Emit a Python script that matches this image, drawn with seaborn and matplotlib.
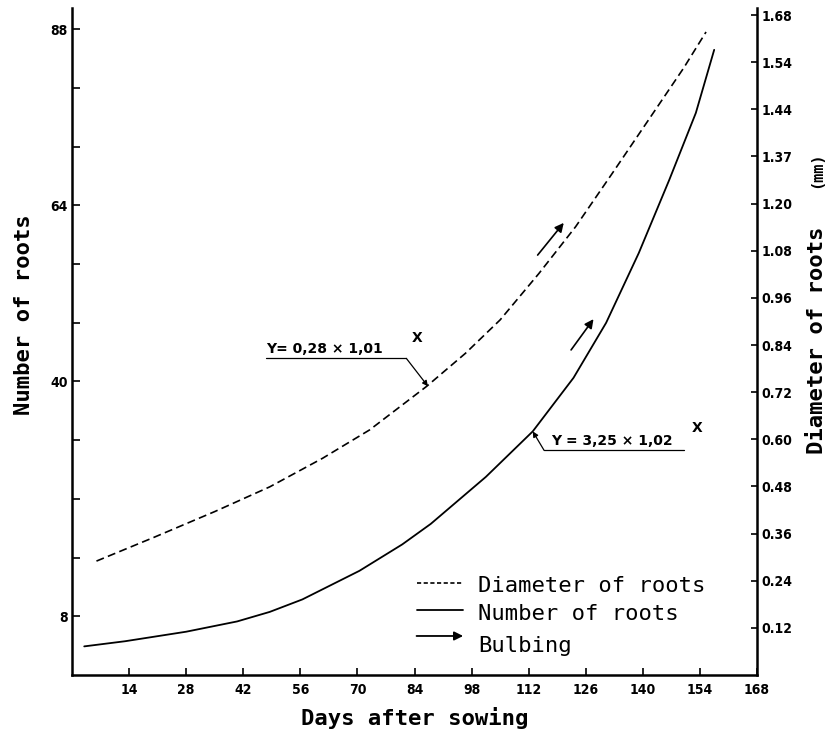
"""Number and diameter of roots vs. days after sowing (two y-axes)"""

import matplotlib
matplotlib.use("Agg")
import matplotlib.pyplot as plt
import seaborn as sns

# diameter of roots (right axis, mm)
diam_days = [6, 20, 35, 48.5, 61.5, 73, 87, 96.5, 105, 114.5, 123.5, 132.5, 142.5, 150, 155.5]
diam_mm = [0.29, 0.350, 0.416, 0.479, 0.552, 0.624, 0.735, 0.819, 0.904, 1.022, 1.141, 1.277,
           1.43, 1.545, 1.637]

# number of roots (left axis)
num_days = [3, 13, 28, 40.5, 48.5, 56.5, 70.5, 81, 88, 101.5, 113, 123, 131, 139, 146.5, 153, 157.5]
num_roots = [3.9, 4.6, 5.9, 7.3, 8.6, 10.3, 14.2, 17.8, 20.6, 27.0, 33.2, 40.5, 48.0, 57.5, 67.5,
             76.6, 85.2]

# axis ticks / labels as printed
x_ticks = [14, 28, 42, 56, 70, 84, 98, 112, 126, 140, 154, 168]
left_ticks = [8, 16, 24, 32, 40, 48, 56, 64, 72, 80, 88]
left_labels = ["8", "", "", "", "40", "", "", "64", "", "", "88"]
right_ticks = [0.12, 0.24, 0.36, 0.48, 0.60, 0.72, 0.84, 0.96, 1.08, 1.20, 1.32, 1.44, 1.56, 1.68]
right_labels = ["0.12", "0.24", "0.36", "0.48", "0.60", "0.72", "0.84", "0.96", "1.08", "1.20",
                "1.37", "1.44", "1.54", "1.68"]

sns.set_theme(style="ticks", rc={"text.color": "black", "axes.labelcolor": "black",
                                 "xtick.color": "black", "ytick.color": "black"})
plt.rcParams["font.family"] = ["DejaVu Sans Mono", "DejaVu Sans"]

fig = plt.figure(figsize=(8.3, 7.34), dpi=100)
ax = fig.add_axes([72 / 830, 1 - 675 / 734, 685 / 830, 667 / 734])
ax2 = ax.twinx()

sns.lineplot(x=num_days, y=num_roots, ax=ax, color="black", linewidth=1.3, sort=False)
sns.lineplot(x=diam_days, y=diam_mm, ax=ax2, color="black", linewidth=1.2, sort=False,
             linestyle=(0, (4.8, 2.6)))

ax.set_xlim(0, 168)
ax.set_ylim(0, 90.9)
ax2.set_ylim(0, 1.698)

tick_font = dict(family="DejaVu Sans", weight="bold", size=10, stretch="condensed")
ax.set_xticks(x_ticks)
ax.set_xticklabels([str(t) for t in x_ticks], fontdict=tick_font)
ax.set_yticks(left_ticks)
ax.set_yticklabels(left_labels, fontdict=tick_font)
ax2.set_yticks(right_ticks)
ax2.set_yticklabels(right_labels, fontdict=tick_font)

ax.tick_params(axis="x", direction="in", length=5, width=1.2, pad=6, colors="black")
ax.tick_params(axis="y", direction="in", length=6, width=1.2, pad=3, colors="black")
ax2.tick_params(axis="y", direction="in", length=4, width=1.2, pad=3, colors="black")

for a in (ax, ax2):
    a.spines["top"].set_visible(False)
    for s in a.spines.values():
        s.set_linewidth(1.8)
        s.set_color("black")
ax.spines["right"].set_visible(False)
ax2.spines["left"].set_visible(False)
ax2.spines["bottom"].set_visible(False)

# axis titles
ax.set_xlabel("Days after sowing", fontsize=16, fontweight="bold")
ax.xaxis.set_label_coords(0.5, -0.048)
ax.set_ylabel("Number of roots", fontsize=16, fontweight="bold")
ax.yaxis.set_label_coords(-0.056, 0.54)
ax2.set_ylabel("")
fig.text(817 / 830, 1 - 340 / 734, "Diameter of roots", rotation=90, fontsize=16,
         fontweight="bold", ha="center", va="center")
fig.text(817 / 830, 1 - 170 / 734, "(mm)", rotation=90, fontsize=11,
         fontweight="bold", ha="center", va="center")

# regression equations
eq_font = dict(family="DejaVu Sans", weight="bold", size=10)
ax2.text(47.6, 0.83, "Y= 0,28 \u00d7 1,01", ha="left", va="center", fontdict=eq_font)
ax2.text(83.2, 0.858, "X", ha="left", va="center", fontdict=eq_font)
ax2.plot([47.6, 82.0], [0.806, 0.806], color="black", lw=0.9)
ax2.annotate("", xy=(87.3, 0.735), xytext=(82.0, 0.806),
             arrowprops=dict(arrowstyle="-|>", color="black", lw=0.9, shrinkA=0, shrinkB=0,
                             mutation_scale=8))

ax.text(117.6, 31.9, "Y = 3,25 \u00d7 1,02", ha="left", va="center", fontdict=eq_font)
ax.text(152.1, 33.6, "X", ha="left", va="center", fontdict=eq_font)
ax.plot([115.8, 150.1], [30.6, 30.6], color="black", lw=0.9)
ax.annotate("", xy=(113.0, 33.2), xytext=(115.8, 30.6),
            arrowprops=dict(arrowstyle="-|>", color="black", lw=0.9, shrinkA=0, shrinkB=0,
                            mutation_scale=8))

# bulbing arrows
bulb = dict(arrowstyle="-|>", color="black", lw=1.2, shrinkA=0, shrinkB=0, mutation_scale=13)
ax2.annotate("", xy=(120.6, 1.151), xytext=(114.2, 1.069), arrowprops=bulb)
ax.annotate("", xy=(127.9, 48.5), xytext=(122.4, 44.3), arrowprops=bulb)

# hand-made key
tr = ax.transAxes
ax.plot([0.503, 0.571], [0.1375, 0.1375], transform=tr, color="black", lw=1.2,
        linestyle=(0, (2.5, 1.5)))
ax.plot([0.503, 0.571], [0.0975, 0.0975], transform=tr, color="black", lw=1.3)
ax.annotate("", xy=(0.571, 0.0585), xytext=(0.503, 0.0585), xycoords=tr, textcoords=tr,
            arrowprops=dict(arrowstyle="-|>", color="black", lw=1.3, shrinkA=0, shrinkB=0,
                            mutation_scale=13))
key_font = dict(size=16)
ax.text(0.593, 0.133, "Diameter of roots", transform=tr, va="center", fontdict=key_font)
ax.text(0.593, 0.091, "Number of roots", transform=tr, va="center", fontdict=key_font)
ax.text(0.593, 0.043, "Bulbing", transform=tr, va="center", fontdict=key_font)

fig.savefig("out.png", dpi=100)
